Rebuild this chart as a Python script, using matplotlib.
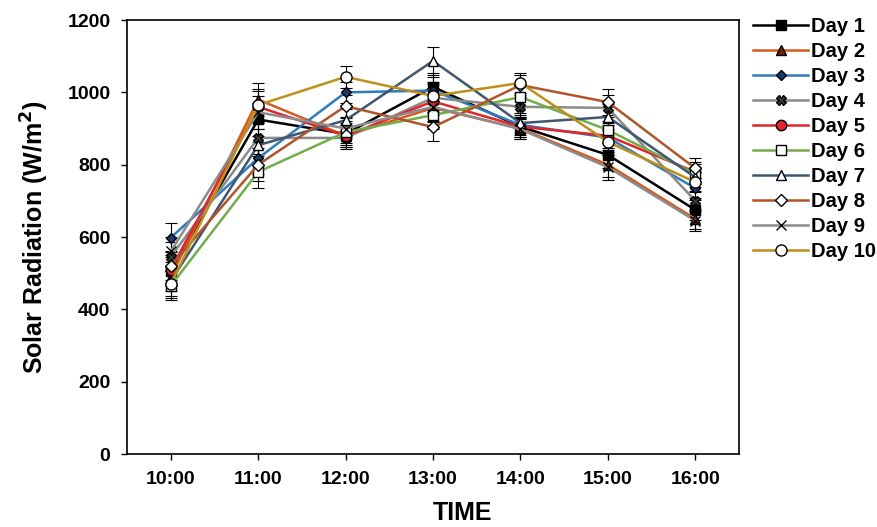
import numpy as np
import matplotlib
matplotlib.use("Agg")
import matplotlib.pyplot as plt

plt.rcParams["font.family"] = ["Liberation Sans", "DejaVu Sans"]
plt.rcParams["font.weight"] = "bold"

times = ["10:00", "11:00", "12:00", "13:00", "14:00", "15:00", "16:00"]
labels = ["Day 1", "Day 2", "Day 3", "Day 4", "Day 5",
          "Day 6", "Day 7", "Day 8", "Day 9", "Day 10"]

day1 = [505, 925, 885, 1015, 905, 827, 675]
day2 = [490, 980, 880, 957, 900, 800, 650]
day3 = [598, 818, 1000, 1005, 910, 875, 735]
day4 = [545, 874, 874, 985, 960, 957, 700]
day5 = [510, 960, 880, 975, 905, 880, 780]
day6 = [465, 780, 890, 937, 987, 896, 775]
day7 = [478, 854, 923, 1087, 915, 932, 765]
day8 = [520, 800, 962, 904, 1020, 973, 790]
day9 = [560, 945, 900, 960, 898, 793, 645]
day10 = [470, 965, 1043, 990, 1026, 863, 752]
sd = [40, 45, 30, 38, 28, 35, 28]

series = [day1, day2, day3, day4, day5, day6, day7, day8, day9, day10]

# (line colour, marker, marker face, marker size)
styles = [
    ("#000000", "s", "#000000", 6.5),
    ("#d55a1e", "^", "#6b2410", 7),
    ("#2e7cc0", "D", "#1c3a66", 5.5),
    ("#8a8a8a", "X", "#3a3a3a", 7),
    ("#e3252b", "o", "#e3252b", 7.5),
    ("#72ad4c", "s", "white", 7),
    ("#3f5670", "^", "white", 7.5),
    ("#b0542a", "D", "white", 6),
    ("#8c8c8c", "x", "black", 7),
    ("#bf8f1a", "o", "white", 8),
]

fig = plt.figure(figsize=(8.78, 5.27), dpi=100)
ax = fig.add_axes([0.1447, 0.1385, 0.697, 0.8235])
x = np.arange(len(times))

handles = []
for vals, (c, m, fc, ms), lab in zip(series, styles, labels):
    ax.errorbar(x, vals, yerr=sd, fmt="none", ecolor="black", elinewidth=0.8,
                capsize=4, capthick=0.8, zorder=2)
    h, = ax.plot(x, vals, "-", color=c, lw=1.8, marker=m, ms=ms,
                 mfc=fc, mec="black", mew=1.0, label=lab, zorder=3)
    handles.append(h)

ax.set_xlim(-0.5, 6.5)
ax.set_ylim(0, 1200)
ax.set_xticks(x)
ax.set_xticklabels(times)
ax.set_yticks(np.arange(0, 1201, 200))
ax.tick_params(direction="out", length=4, width=1, labelsize=14, pad=8)
for s in ax.spines.values():
    s.set_linewidth(1.2)

ax.set_ylabel("Solar Radiation (W/m$^\\mathbf{2}$)", fontsize=18, fontweight="bold")
ax.yaxis.set_label_coords(-0.125, 0.5)
ax.set_xlabel("TIME", fontsize=18, fontweight="bold")
ax.xaxis.set_label_coords(0.548, -0.108)

fig.legend(handles=handles, loc="upper left", bbox_to_anchor=(0.858, 0.968),
           frameon=False, handlelength=2.7, handletextpad=0.15,
           labelspacing=0.3, borderpad=0, borderaxespad=0,
           prop={"weight": "bold", "size": 14.5})

fig.savefig("out.png", dpi=100)
